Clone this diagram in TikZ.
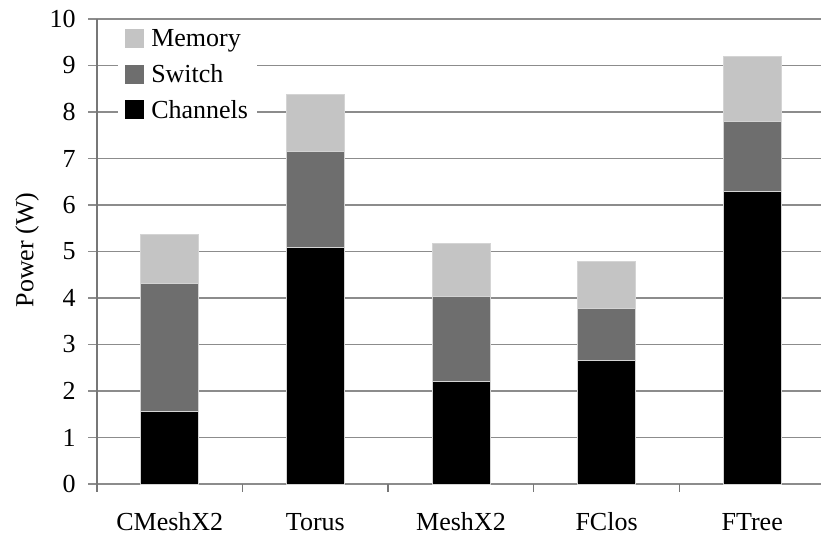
\documentclass[tikz,border=0pt]{standalone}
\usepackage{fontspec}
\setmainfont{Liberation Serif}
\definecolor{memgray}{HTML}{C4C4C4}
\definecolor{swgray}{HTML}{6E6E6E}
\definecolor{gridgray}{HTML}{8C8C8C}
\definecolor{edgegray}{HTML}{D4D4D4}
\begin{document}
\begin{tikzpicture}[x=0.75pt,y=-0.75pt,
  font=\fontsize{19.5}{22}\selectfont,
  gridline/.style={draw=gridgray,line width=0.9pt},
  axisline/.style={draw=gridgray!85!black,line width=0.9pt},
  lbl/.style={inner sep=0pt},
  barseg/.style={draw=edgegray,line width=0.5pt},
  chan/.style={barseg,fill=black},
  swit/.style={barseg,fill=swgray},
  memo/.style={barseg,fill=memgray}]
\useasboundingbox (0,0) rectangle (821,537);
% grid and tick labels
\begin{scope}[shift={(0,484)},yscale=-46.5]
  \foreach \v in {0,...,10} {
    \draw[gridline] (88,\v) -- (821,\v);
    \node[lbl,anchor=east] (tick\v) at (76,\v) {\v};
  }
\end{scope}
% axis
\coordinate (axtop) at (97,19);
\coordinate (axbot) at (97,492);
\draw[axisline] (axtop) -- (axbot);
\foreach \x [count=\i] in {242.5,388,533.7,679.3} {
  \coordinate (ta\i) at (\x,484);
  \coordinate (tb\i) at (\x,492);
  \draw[axisline] (ta\i) -- (tb\i);
}
% bars
\begin{scope}[shift={(0,484)},yscale=-46.5]
  \foreach \c/\a/\b/\m in {169.8/1.57/4.31/5.37, 315.4/5.10/7.15/8.39, 461/2.21/4.03/5.18, 606.6/2.66/3.78/4.78, 752.2/6.30/7.81/9.19} {
    \draw[chan] (\c-29,0) rectangle (\c+29,\a);
    \draw[swit] (\c-29,\a) rectangle (\c+29,\b);
    \draw[memo] (\c-29,\b) rectangle (\c+29,\m);
  }
\end{scope}
% category labels
\node[lbl,anchor=base] (c1) at (169.8,530) {CMeshX2};
\node[lbl,anchor=base] (c2) at (315.4,530) {Torus};
\node[lbl,anchor=base] (c3) at (461,530) {MeshX2};
\node[lbl,anchor=base] (c4) at (606.6,530) {FClos};
\node[lbl,anchor=base] (c5) at (752.2,530) {FTree};
% axis title
\node[lbl,rotate=90] (ytitle) at (27,250) {Power (W)};
% legend
\fill[white] (118,22) rectangle (257,130);
\fill[memgray] (125,29) rectangle (144,48);
\fill[swgray] (125,65) rectangle (144,84);
\fill[black] (125,100) rectangle (144,119);
\node[lbl,anchor=base west] (lm) at (151,46.7) {Memory};
\node[lbl,anchor=base west] (ls) at (151,82.7) {Switch};
\node[lbl,anchor=base west] (lc) at (151,118.3) {Channels};
\end{tikzpicture}
\end{document}
